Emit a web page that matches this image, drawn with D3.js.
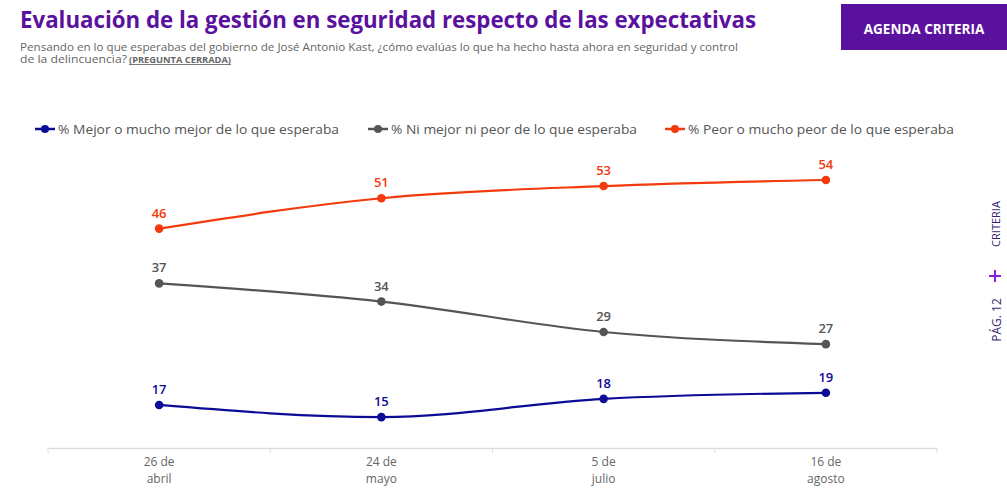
<!DOCTYPE html>
<html>
<head>
<meta charset="utf-8">
<script src="https://cdn.jsdelivr.net/npm/d3@7"></script>
<style>
  html,body{margin:0;padding:0;background:#fff;}
  svg{display:block;font-family:"Open Sans","Noto Sans",sans-serif;}
</style>
</head>
<body>
<div id="chart"></div>
<script>
// Data
const DATES = ["26 de|abril", "24 de|mayo", "5 de|julio", "16 de|agosto"];
const MEJOR = [17, 15, 18, 19];
const NI = [37, 34, 29, 27];
const PEOR = [46, 51, 53, 54];
const SERIES_NAMES = [
  "% Mejor o mucho mejor de lo que esperaba",
  "% Ni mejor ni peor de lo que esperaba",
  "% Peor o mucho peor de lo que esperaba"
];
const COLORS = ["#0c0b96", "#555555", "#f23a0c"];

const W = 1007, H = 496;
const MG = {t:150, r:70, b:46, l:48};
const iW = W-MG.l-MG.r, iH = H-MG.t-MG.b;

const svg = d3.select("#chart").append("svg").attr("width",W).attr("height",H);

// header
svg.append("text").attr("x",20).attr("y",28)
  .attr("font-size",22.5).attr("font-weight",700).attr("fill","#5a129e")
  .attr("textLength",736).attr("lengthAdjust","spacingAndGlyphs")
  .text("Evaluación de la gestión en seguridad respecto de las expectativas");
const sub = svg.append("g").attr("font-size",10.5).attr("fill","#666");
sub.append("text").attr("x",20).attr("y",51).attr("textLength",718).attr("lengthAdjust","spacingAndGlyphs")
  .text("Pensando en lo que esperabas del gobierno de José Antonio Kast, ¿cómo evalúas lo que ha hecho hasta ahora en seguridad y control");
sub.append("text").attr("x",20).attr("y",63).attr("textLength",107).attr("lengthAdjust","spacingAndGlyphs")
  .text("de la delincuencia?");
sub.append("text").attr("x",129).attr("y",63).attr("font-size",8.5).attr("font-weight",700)
  .attr("text-decoration","underline").attr("textLength",102).attr("lengthAdjust","spacingAndGlyphs")
  .text("(PREGUNTA CERRADA)");

svg.append("rect").attr("x",841).attr("y",4).attr("width",166).attr("height",46).attr("fill","#5a129e");
svg.append("text").attr("x",924).attr("y",34).attr("text-anchor","middle")
  .attr("font-size",13.5).attr("font-weight",700).attr("fill","#fff").text("AGENDA CRITERIA");

// side tag
const side = svg.append("g").attr("fill","#3b1d6e").attr("font-size",11);
side.append("text").attr("transform","translate(1000,224) rotate(-90)").attr("text-anchor","middle").text("CRITERIA");
side.append("text").attr("transform","translate(1001,320) rotate(-90)").attr("text-anchor","middle").attr("font-size",12).text("PÁG. 12");
side.append("path").attr("d","M989,276 h12 M995,270 v12").attr("stroke","#8a1fe0").attr("stroke-width",2);

const g = svg.append("g").attr("transform",`translate(${MG.l},${MG.t})`);

const x = d3.scaleBand().domain(DATES).range([0,iW]);
const y = d3.scaleLinear().domain([10,60]).range([447.5-MG.t, 143.5-MG.t]);

// x axis
const ax = g.append("g").attr("transform",`translate(0,${448-MG.t})`)
  .call(d3.axisBottom(x).tickSize(0).tickFormat(""));
ax.select(".domain").attr("stroke","#ddd").attr("stroke-width",1.5);
const edges = d3.range(DATES.length+1).map(i => i*x.bandwidth());
g.selectAll(".tk").data(edges).join("line")
  .attr("x1",d=>d).attr("x2",d=>d).attr("y1",448-MG.t).attr("y2",453-MG.t)
  .attr("stroke","#ddd");
DATES.forEach(d=>{
  d.split("|").forEach((s,i)=>g.append("text")
    .attr("x",x(d)+x.bandwidth()/2).attr("y",466-MG.t+i*16.5)
    .attr("text-anchor","middle").attr("font-size",12).attr("fill","#666").text(s));
});

const data = [MEJOR, NI, PEOR];
const line = d3.line().x((_,i)=>x(DATES[i])+x.bandwidth()/2).y(v=>y(v)).curve(d3.curveMonotoneX);

data.forEach((vals,k)=>{
  g.append("path").datum(vals).attr("d",line).attr("fill","none")
    .attr("stroke",COLORS[k]).attr("stroke-width",2.2);
  g.selectAll(".pt"+k).data(vals).join("circle")
    .attr("cx",(_,i)=>x(DATES[i])+x.bandwidth()/2).attr("cy",v=>y(v)).attr("r",4.3).attr("fill",COLORS[k]);
  g.selectAll(".lb"+k).data(vals).join("text")
    .attr("x",(_,i)=>x(DATES[i])+x.bandwidth()/2).attr("y",v=>y(v)-11)
    .attr("text-anchor","middle").attr("font-size",13).attr("font-weight",600)
    .attr("fill",COLORS[k]).text(v=>v);
});

// legend
const LX = [35, 368, 665];
const LW = [281, 246, 266];
SERIES_NAMES.forEach((n,k)=>{
  const lg = svg.append("g").attr("transform",`translate(${LX[k]},129)`);
  lg.append("line").attr("x1",0).attr("x2",20).attr("stroke",COLORS[k]).attr("stroke-width",2.5);
  lg.append("circle").attr("cx",10).attr("r",4).attr("fill",COLORS[k]);
  lg.append("text").attr("x",23).attr("y",5).attr("font-size",13.5).attr("fill","#555")
    .attr("textLength",LW[k]).attr("lengthAdjust","spacingAndGlyphs").text(n);
});
</script>
</body>
</html>
